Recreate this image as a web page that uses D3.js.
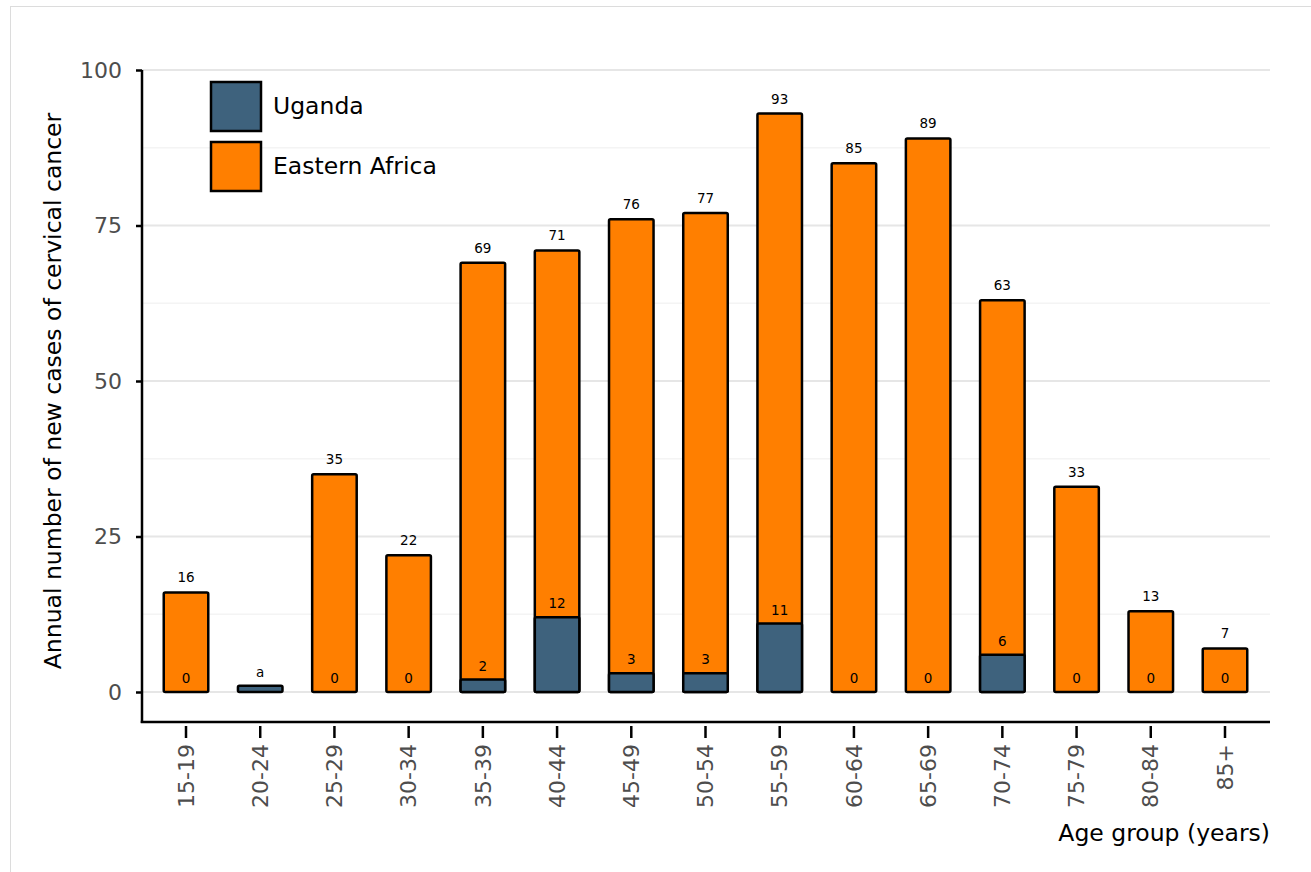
<!DOCTYPE html>
<html>
<head>
<meta charset="utf-8">
<script src="https://cdn.jsdelivr.net/npm/d3@7"></script>
<style>
  body { margin: 0; background: #fff; }
  svg { display: block; font-family: "DejaVu Sans", sans-serif; }
</style>
</head>
<body>
<div id="chart"></div>
<script>
var ageGroups = ["15-19", "20-24", "25-29", "30-34", "35-39", "40-44", "45-49", "50-54",
                 "55-59", "60-64", "65-69", "70-74", "75-79", "80-84", "85+"];
var easternAfrica = [16, null, 35, 22, 69, 71, 76, 77, 93, 85, 89, 63, 33, 13, 7];
var uganda = [0, 1, 0, 0, 2, 12, 3, 3, 11, 0, 0, 6, 0, 0, 0];
var ugandaLabels = ["0", "a", "0", "0", "2", "12", "3", "3", "11", "0", "0", "6", "0", "0", "0"];
var yTicks = [0, 25, 50, 75, 100];
var yMinor = [12.5, 37.5, 62.5, 87.5];

var width = 1311, height = 872;
var colUganda = "#3e627d", colEast = "#ff7f00";

var svg = d3.select("#chart").append("svg")
  .attr("width", width)
  .attr("height", height);

// outer frame
svg.append("rect")
  .attr("x", 10.5).attr("y", 6.5)
  .attr("width", 1400).attr("height", 1000)
  .style("fill", "none").style("stroke", "#dcdcdc").style("stroke-width", 1);

var left = 142, right = 1270;
var x = d3.scaleBand()
  .domain(ageGroups)
  .range([148.9, 1262.1])
  .paddingInner(0.4)
  .paddingOuter(0.2);

var y = d3.scaleLinear()
  .domain([0, 100])
  .range([692, 70]);

// gridlines
svg.append("g").selectAll("line.minor")
  .data(yMinor).enter().append("line")
  .attr("x1", left).attr("x2", right)
  .attr("y1", function(d) { return y(d); })
  .attr("y2", function(d) { return y(d); })
  .style("stroke", "#f4f4f4").style("stroke-width", 1.5);

svg.append("g").selectAll("line.major")
  .data(yTicks).enter().append("line")
  .attr("x1", left).attr("x2", right)
  .attr("y1", function(d) { return y(d); })
  .attr("y2", function(d) { return y(d); })
  .style("stroke", "#e6e6e6").style("stroke-width", 2);

// Eastern Africa bars (behind)
var rows = ageGroups.map(function(g, i) {
  return { group: g, east: easternAfrica[i], ug: uganda[i], ugLabel: ugandaLabels[i] };
});

svg.append("g").selectAll("rect")
  .data(rows.filter(function(d) { return d.east != null; }))
  .enter().append("rect")
  .attr("x", function(d) { return x(d.group); })
  .attr("width", x.bandwidth())
  .attr("y", function(d) { return y(d.east); })
  .attr("height", function(d) { return y(0) - y(d.east); })
  .attr("rx", 1.5)
  .style("fill", colEast).style("stroke", "#000").style("stroke-width", 2.5);

// Uganda bars (front)
svg.append("g").selectAll("rect")
  .data(rows.filter(function(d) { return d.ug > 0; }))
  .enter().append("rect")
  .attr("x", function(d) { return x(d.group); })
  .attr("width", x.bandwidth())
  .attr("y", function(d) { return y(d.ug); })
  .attr("height", function(d) { return y(0) - y(d.ug); })
  .attr("rx", 1.5)
  .style("fill", colUganda).style("stroke", "#000").style("stroke-width", 2.5);

// value labels
svg.append("g").selectAll("text")
  .data(rows.filter(function(d) { return d.east != null; }))
  .enter().append("text")
  .attr("x", function(d) { return x(d.group) + x.bandwidth() / 2; })
  .attr("y", function(d) { return y(d.east) - 10; })
  .attr("text-anchor", "middle")
  .attr("font-size", "13.5px")
  .text(function(d) { return d.east; });

svg.append("g").selectAll("text")
  .data(rows)
  .enter().append("text")
  .attr("x", function(d) { return x(d.group) + x.bandwidth() / 2; })
  .attr("y", function(d) { return y(d.ug) - 9; })
  .attr("text-anchor", "middle")
  .attr("font-size", "13.5px")
  .text(function(d) { return d.ugLabel; });

// y axis
var yAxis = svg.append("g")
  .attr("transform", "translate(" + left + ",0)")
  .call(d3.axisLeft(y).tickValues(yTicks).tickSize(6).tickPadding(14));
yAxis.select(".domain").remove();
yAxis.selectAll(".tick line").style("stroke", "#000").style("stroke-width", 2.5);
yAxis.selectAll(".tick text")
  .style("font-size", "22px").style("fill", "#4d4d4d")
  .style("font-family", "DejaVu Sans, sans-serif");

svg.append("line")
  .attr("x1", left).attr("x2", left)
  .attr("y1", y(100)).attr("y2", 723)
  .style("stroke", "#000").style("stroke-width", 2.5);

// x axis
var xAxis = svg.append("g")
  .attr("transform", "translate(0,722)")
  .call(d3.axisBottom(x).tickSize(0));
xAxis.select(".domain").remove();
xAxis.selectAll(".tick line").remove();
xAxis.selectAll(".tick").append("line")
  .attr("y1", 4).attr("y2", 16)
  .style("stroke", "#000").style("stroke-width", 2.5);
xAxis.selectAll(".tick text")
  .attr("transform", "rotate(-90)")
  .attr("x", -22).attr("y", 0).attr("dy", "0.35em")
  .style("text-anchor", "end")
  .style("font-size", "22px").style("fill", "#4d4d4d")
  .style("font-family", "DejaVu Sans, sans-serif");

svg.append("line")
  .attr("x1", left - 1.25).attr("x2", right)
  .attr("y1", 722).attr("y2", 722)
  .style("stroke", "#000").style("stroke-width", 2.5);

// axis titles
svg.append("text")
  .attr("transform", "translate(61," + 391 + ") rotate(-90)")
  .attr("text-anchor", "middle")
  .attr("font-size", "23.5px")
  .text("Annual number of new cases of cervical cancer");

svg.append("text")
  .attr("x", right).attr("y", 841)
  .attr("text-anchor", "end")
  .attr("font-size", "23.5px")
  .text("Age group (years)");

// legend
var legend = [{ name: "Uganda", color: colUganda }, { name: "Eastern Africa", color: colEast }];
var lg = svg.append("g").selectAll("g")
  .data(legend).enter().append("g")
  .attr("transform", function(d, i) { return "translate(211," + (82 + i * 60) + ")"; });
lg.append("rect")
  .attr("width", 50).attr("height", 49)
  .style("fill", function(d) { return d.color; })
  .style("stroke", "#000").style("stroke-width", 2.5);
lg.append("text")
  .attr("x", 62).attr("y", 24).attr("dy", "0.35em")
  .attr("font-size", "23.5px")
  .text(function(d) { return d.name; });
</script>
</body>
</html>
